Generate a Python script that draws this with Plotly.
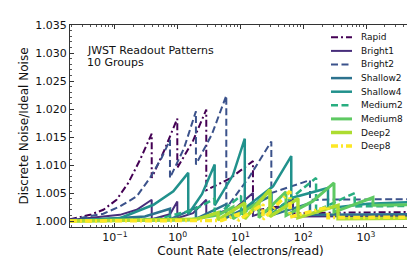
import plotly.graph_objects as go

# ---------------- data ----------------
series_names = ["Rapid", "Bright1", "Bright2", "Shallow2", "Shallow4",
                "Medium2", "Medium8", "Deep2", "Deep8"]

rapid_rate = [0.0192, 0.040, 0.0652, 0.106, 0.163, 0.250, 0.385, 0.385, 0.604, 0.984, 0.984,
              1.75, 2.85, 2.85, 6.80, 15.8, 15.8, 40.0, 68.7, 68.7, 500, 5210]
rapid_val = [1.0003, 1.0011, 1.0020, 1.0038, 1.0068, 1.0109, 1.0156, 1.0077, 1.0125, 1.0183, 1.0095,
             1.0143, 1.0199, 1.0055, 1.0076, 1.0107, 1.0018, 1.0026, 1.0036, 1.0014, 1.0015, 1.0016]

bright1_rate = [0.0192, 0.120, 0.222, 0.385, 0.385, 0.752, 0.984, 0.984, 1.75, 2.85, 2.85,
                8.48, 15.8, 15.8, 40.0, 68.7, 68.7, 5210]
bright1_val = [1.0002, 1.0011, 1.0020, 1.0038, 1.0003, 1.0012, 1.0035, 1.0005, 1.0014, 1.0038, 1.0008,
               1.0024, 1.0050, 1.0009, 1.0024, 1.0038, 1.0008, 1.0009]

bright2_rate = [0.0192, 0.0652, 0.120, 0.222, 0.361, 0.555, 0.752, 0.752, 1.26, 1.95, 1.95,
                3.51, 5.94, 5.94, 13.7, 31.0, 31.0, 128, 128, 5210]
bright2_val = [1.0002, 1.0013, 1.0026, 1.0044, 1.0077, 1.0113, 1.0145, 1.0077, 1.0130, 1.0196, 1.0101,
               1.0155, 1.0224, 1.0023, 1.0078, 1.0142, 1.0050, 1.0073, 1.0038, 1.0039]

shallow2_rate = [0.0192, 0.30, 0.752, 0.752, 1.95, 1.95, 5.94, 5.94, 31.0, 31.0, 128, 128, 5210]
shallow2_val = [1.0000, 1.0008, 1.0022, 1.0003, 1.0024, 1.0004, 1.0030, 1.0006, 1.0045, 1.0010,
                1.0032, 1.0011, 1.0012]

shallow4_rate = [0.0192, 0.120, 0.41, 0.85, 1.47, 1.47, 2.43, 3.88, 3.88, 7.59, 11.7, 11.7,
                 33.0, 64.4, 64.4, 248, 248, 1076, 5210]
shallow4_val = [1.0001, 1.0005, 1.0029, 1.0053, 1.0086, 1.0012, 1.0048, 1.0101, 1.0028, 1.0082, 1.0147,
                1.0023, 1.0062, 1.0116, 1.0041, 1.0059, 1.0023, 1.0031, 1.0034]

medium2_rate = [0.0192, 0.5, 1.8, 3.88, 3.88, 10.2, 10.2, 31.0, 31.0, 160, 160, 661, 661, 5210]
medium2_val = [1.0000, 1.0004, 1.0020, 1.0040, 1.0008, 1.0045, 1.0010, 1.0055, 1.0012, 1.0077,
               1.0018, 1.0050, 1.0026, 1.0027]

medium8_rate = [0.0192, 1.5, 4.5, 7.59, 7.59, 19.7, 19.7, 53.1, 53.1, 140, 309, 309, 1290, 1290, 5210]
medium8_val = [1.0000, 1.0002, 1.0011, 1.0025, 1.0004, 1.0035, 1.0006, 1.0052, 1.0010, 1.0035,
               1.0068, 1.0016, 1.0042, 1.0028, 1.0029]

deep2_rate = [0.0192, 2.0, 4.38, 4.38, 11.7, 11.7, 29.5, 29.5, 82.4, 82.4, 358, 358, 5210]
deep2_val = [1.0000, 1.0003, 1.0015, 1.0002, 1.0032, 1.0004, 1.0056, 1.0008, 1.0040, 1.0006,
             1.0028, 1.0004, 1.0005]

deep8_rate = [0.0192, 5.0, 9.12, 9.12, 22.8, 22.8, 61.5, 61.5, 248, 248, 5210]
deep8_val = [1.0000, 1.0001, 1.0012, 1.0001, 1.0030, 1.0003, 1.0053, 1.0007, 1.0025, 1.0006, 1.0007]

x_tick_vals = [0.1, 1, 10, 100, 1000]
x_tick_text = ["10<sup>−1</sup>", "10<sup>0</sup>", "10<sup>1</sup>", "10<sup>2</sup>", "10<sup>3</sup>"]

# ---------------- styles ----------------
colors = ["#440154", "#472d7b", "#3b528b", "#2c728e", "#21918c",
          "#28ae80", "#5ec962", "#addc30", "#fde725"]
DASH = "7px,3.5px"
DASHDOT = "7px,3px,2px,3px"
dashes = [DASHDOT, "solid", DASH, "solid", "solid", DASH, "solid", "solid", DASHDOT]
widths = [2, 2, 2, 2.5, 2.5, 2.5, 3, 3.5, 3.5]

all_rates = [rapid_rate, bright1_rate, bright2_rate, shallow2_rate, shallow4_rate,
             medium2_rate, medium8_rate, deep2_rate, deep8_rate]
all_vals = [rapid_val, bright1_val, bright2_val, shallow2_val, shallow4_val,
            medium2_val, medium8_val, deep2_val, deep8_val]

FONT = "DejaVu Sans"
fig = go.Figure()
for name, xr, yv, c, d, w in zip(series_names, all_rates, all_vals, colors, dashes, widths):
    fig.add_trace(go.Scatter(x=xr, y=yv, mode="lines", name=name, showlegend=False,
                             line=dict(color=c, width=w, dash=d)))

# manual legend (matplotlib-like compact spacing)
L, R, T, B = 62, 403, 17, 219
W, H = R - L, B - T
def px(xp):
    return (xp - L) / W
def py(yp):
    return (B - yp) / H

shapes = []
annotations = []
for i, (name, c, d, w) in enumerate(zip(series_names, colors, dashes, widths)):
    yy = 29.3 + 13.6 * i
    shapes.append(dict(type="line", xref="paper", yref="paper",
                       x0=px(323), x1=px(344), y0=py(yy), y1=py(yy),
                       line=dict(color=c, width=w, dash=d)))
    annotations.append(dict(text=name, xref="paper", yref="paper", x=px(351), y=py(yy),
                            xanchor="left", yanchor="middle", showarrow=False,
                            font=dict(family=FONT, size=9, color="#111")))

annotations.append(dict(text="JWST Readout Patterns", xref="paper", yref="paper",
                        x=px(77), y=py(42.5), xanchor="left", yanchor="middle", showarrow=False,
                        font=dict(family=FONT, size=11, color="#111")))
annotations.append(dict(text="10 Groups", xref="paper", yref="paper",
                        x=px(77), y=py(54.5), xanchor="left", yanchor="middle", showarrow=False,
                        font=dict(family=FONT, size=11, color="#111")))

minor_x = [m * 10 ** e for e in range(-2, 4) for m in range(2, 10)]

fig.update_layout(
    width=415, height=260,
    margin=dict(l=L, r=415 - R, t=T, b=260 - B),
    paper_bgcolor="white", plot_bgcolor="white",
    font=dict(family=FONT, size=11, color="#111"),
    shapes=shapes, annotations=annotations,
)
fig.update_xaxes(
    type="log", range=[-1.7167, 3.7168],
    tickvals=x_tick_vals, ticktext=x_tick_text,
    ticks="inside", ticklen=4, tickwidth=1, tickcolor="#333",
    minor=dict(tickvals=minor_x, ticks="inside", ticklen=2, tickcolor="#555", showgrid=False),
    showline=True, linecolor="#333", linewidth=1, mirror="allticks",
    showgrid=False, zeroline=False,
    tickfont=dict(family=FONT, size=11, color="#111"),
    title=dict(text="Count Rate (electrons/read)", standoff=3,
               font=dict(family=FONT, size=12, color="#111")),
)
fig.update_yaxes(
    range=[0.99893, 1.035], tick0=1.0, dtick=0.005, tickformat=".3f",
    ticks="inside", ticklen=4, tickwidth=1, tickcolor="#333",
    minor=dict(dtick=0.001, ticks="inside", ticklen=2, tickcolor="#555", showgrid=False),
    showline=True, linecolor="#333", linewidth=1, mirror="allticks",
    showgrid=False, zeroline=False,
    tickfont=dict(family=FONT, size=11, color="#111"),
    title=dict(text="Discrete Noise/Ideal Noise", standoff=4,
               font=dict(family=FONT, size=12, color="#111")),
)

fig.write_html("out.html")
